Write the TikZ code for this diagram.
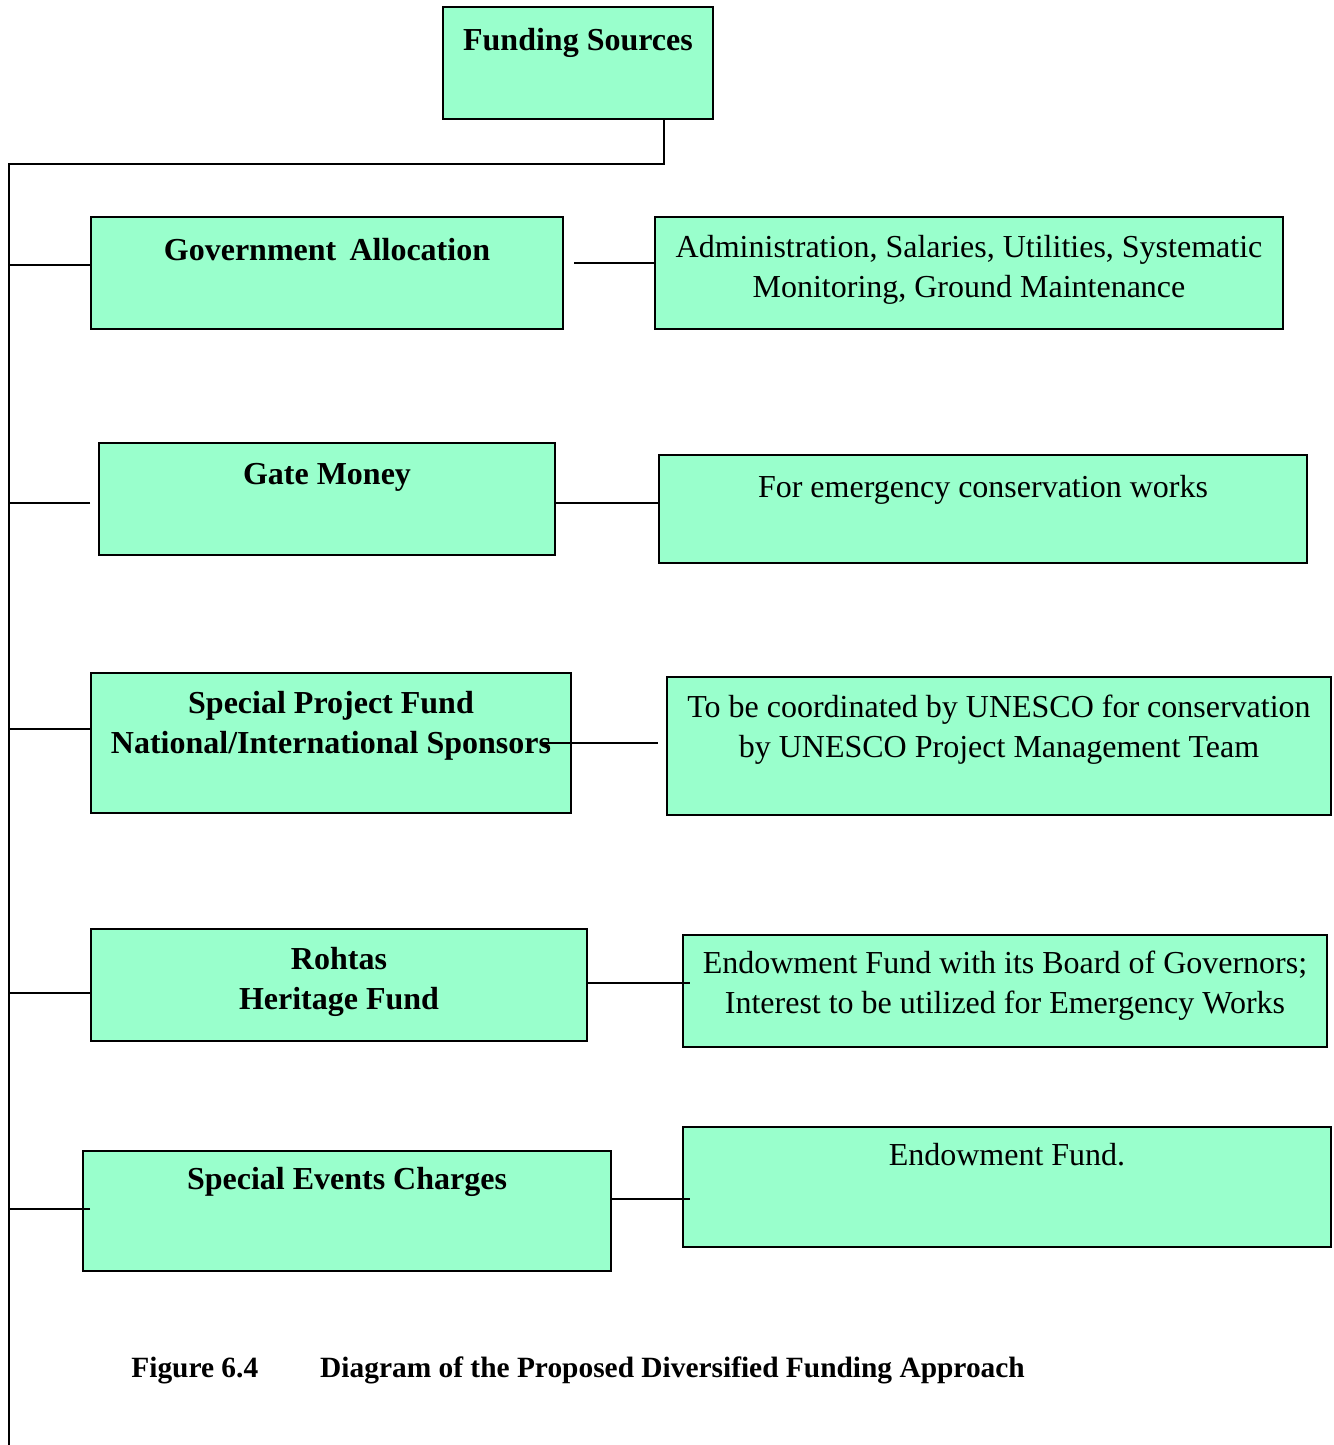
\documentclass[tikz,border=0pt]{standalone}
\usepackage{fontspec}
\setmainfont{Liberation Serif}
\usetikzlibrary{positioning,calc}
\definecolor{boxgreen}{HTML}{99FFCC}

\tikzset{
  fundbox/.style = {draw, line width=1pt, fill=boxgreen, rectangle,
                    anchor=north west, inner sep=0pt},
  fundtext/.style = {inner sep=0pt, anchor=north, align=center,
                     font=\fontsize{16}{20}\selectfont},
  srctext/.style = {fundtext, font=\fontsize{16}{20}\selectfont\bfseries},
  link/.style = {line width=1pt}
}

\begin{document}
\begin{tikzpicture}[x=0.5pt, y=-0.5pt]
    \useasboundingbox (0,0) rectangle (1333,1445);
    % boxes
    \node[fundbox, minimum width=135pt, minimum height=56pt] (fs)   at (442,6)    {};
    \node[fundbox, minimum width=236pt, minimum height=56pt] (ga)   at (90,216)   {};
    \node[fundbox, minimum width=314pt, minimum height=56pt] (gaR)  at (654,216)  {};
    \node[fundbox, minimum width=228pt, minimum height=56pt] (gm)   at (98,442)   {};
    \node[fundbox, minimum width=324pt, minimum height=54pt] (gmR)  at (658,454)  {};
    \node[fundbox, minimum width=240pt, minimum height=70pt] (spf)  at (90,672)   {};
    \node[fundbox, minimum width=332pt, minimum height=69pt] (spfR) at (666,676)  {};
    \node[fundbox, minimum width=248pt, minimum height=56pt] (rhf)  at (90,928)   {};
    \node[fundbox, minimum width=322pt, minimum height=56pt] (rhfR) at (682,934)  {};
    \node[fundbox, minimum width=264pt, minimum height=60pt] (sec)  at (82,1150)  {};
    \node[fundbox, minimum width=324pt, minimum height=60pt] (secR) at (682,1126) {};
    % texts
    \node[srctext, below=11pt of fs.north]   {Funding Sources};
    \node[srctext, below=11pt of ga.north]   {Government\, Allocation};
    \node[fundtext, below=9.5pt of gaR.north] {Administration, Salaries, Utilities, Systematic\\Monitoring, Ground Maintenance};
    \node[srctext, below=10.5pt of gm.north]  {Gate Money};
    \node[fundtext, below=10.5pt of gmR.north] {For emergency conservation works};
    \node[srctext, below=9.5pt of spf.north] {Special Project Fund\\National/International Sponsors};
    \node[fundtext, below=9.5pt of spfR.north] {To be coordinated by UNESCO for conservation\\by UNESCO Project Management Team};
    \node[srctext, below=9.5pt of rhf.north] {Rohtas\\Heritage Fund};
    \node[fundtext, below=8.5pt of rhfR.north] {Endowment Fund with its Board of Governors;\\Interest to be utilized for Emergency Works};
    \node[srctext, below=8.5pt of sec.north] {Special Events Charges};
    \node[fundtext, below=8.5pt of secR.north] {Endowment Fund.};
    \node[srctext, anchor=west, font=\fontsize{14.7}{18}\selectfont\bfseries] (caption) at (131,1370)
        {Figure 6.4\hspace{31pt}Diagram of the Proposed Diversified Funding Approach};
    % trunk
    \coordinate (drop)  at (664,164);
    \coordinate (trunk) at (9,164);
    \coordinate (bot)   at (9,1445);
    \draw[link] (fs.south -| drop) -- (drop) -- (trunk) -- (bot);
    \foreach \n/\dx/\dy in {ga/0/-8, gm/-8/4, spf/0/-14, rhf/0/8, sec/8/-2}
        \draw[link] ($(\n.west)+(\dx,\dy)$) coordinate (e) -- (e -| trunk);
    % right side links
    \draw[link] ($(ga.east)+(10,-10)$) -- ($(gaR.west)+(0,-10)$);
    \draw[link] ($(gm.east)+(0,4)$) -- ($(gmR.west)+(0,-6)$);
    \draw[link] ($(spf.east)+(-30,0)$) -- ($(spfR.west)+(-8,-3)$);
    \draw[link] ($(rhf.east)+(0,-2)$) -- ($(rhfR.west)+(8,-8)$);
    \draw[link] ($(sec.east)+(0,-12)$) -- ($(secR.west)+(8,12)$);
\end{tikzpicture}
\end{document}
